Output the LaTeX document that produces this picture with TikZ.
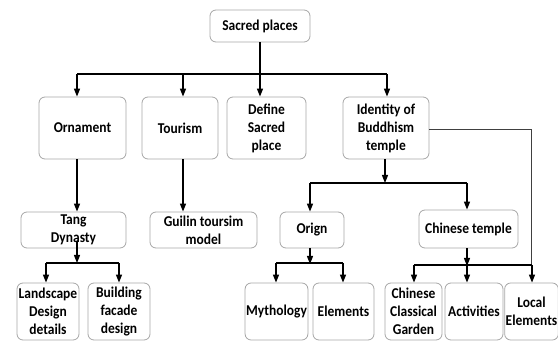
\documentclass[tikz,border=0pt]{standalone}
\usepackage{fontspec}
\setmainfont{Carlito}[FakeStretch=0.9]
\usetikzlibrary{arrows.meta}
\begin{document}
\begin{tikzpicture}[x=1pt,y=-1pt,
  box/.style={draw=black!35, line width=0.8pt, rounded corners=6pt, align=center,
    font=\bfseries\fontsize{15}{18}\selectfont, inner sep=1pt, anchor=center},
  arr/.style={line width=1.3pt, -{Triangle[length=8pt,width=6pt]}},
  ln/.style={line width=1.3pt}]
\useasboundingbox (0,0) rectangle (558,342);
\node[box, minimum width=100pt, minimum height=32pt] (sacred) at (260,26) {Sacred places};
\node[box, minimum width=87pt, minimum height=62pt] (orn) at (82.5,128) {Ornament};
\node[box, minimum width=76pt, minimum height=62pt] (tour) at (180,128) {Tourism};
\node[box, minimum width=79pt, minimum height=62pt] (def) at (266.5,128) {Define\\Sacred\\place};
\node[box, minimum width=86pt, minimum height=62pt] (iden) at (386,128) {Identity of\\Buddhism\\temple};
\node[box, minimum width=105pt, minimum height=36pt] (tang) at (73.5,230) {Tang\\Dynasty};
\node[box, minimum width=107pt, minimum height=36pt] (guilin) at (203.5,230) {Guilin toursim\\model};
\node[box, minimum width=62pt, minimum height=57pt] (land) at (48,311.5) {Landscape\\Design\\details};
\node[box, minimum width=62pt, minimum height=57pt] (build) at (119,311.5) {Building\\facade\\design};
\node[box, minimum width=64pt, minimum height=36pt] (origin) at (312,230) {Orign};
\node[box, minimum width=99pt, minimum height=38pt] (ctemple) at (468.5,229) {Chinese temple};
\node[box, minimum width=62pt, minimum height=57pt] (myth) at (276.5,311.5) {Mythology};
\node[box, minimum width=61pt, minimum height=57pt] (elem) at (343.5,311.5) {Elements};
\node[box, minimum width=57pt, minimum height=57pt] (garden) at (413.5,311.5) {Chinese\\Classical\\Garden};
\node[box, minimum width=58pt, minimum height=57pt] (activ) at (474,311.5) {Activities};
\node[box, minimum width=51pt, minimum height=57pt] (local) at (531.5,311.5) {Local\\Elements};
% level 1
\coordinate (j1) at (260,74);
\draw[arr] (sacred.south -| j1) -- (def.north -| j1);
\draw[ln] (77,74) coordinate (j1l) -- (387,74) coordinate (j1r);
\draw[arr] (j1l) -- (orn.north -| j1l);
\draw[arr] (183,74) coordinate (j1t) -- (tour.north -| j1t);
\draw[arr] (j1r) -- (iden.north -| j1r);
% ornament / tourism
\coordinate (oo) at (77,0);
\draw[arr] (orn.south -| oo) -- (tang.north -| oo);
\coordinate (tt) at (183,0);
\draw[arr] (tour.south -| tt) -- (guilin.north -| tt);
% tang
\coordinate (tj) at (77,263);
\draw[arr] (77,241) -- (tj);
\draw[ln] (46,263) coordinate (tjl) -- (119,263) coordinate (tjr);
\draw[arr] (tjl) -- (land.north -| tjl);
\draw[arr] (tjr) -- (build.north -| tjr);
% identity
\coordinate (ij) at (385,183);
\draw[arr] (iden.south -| ij) -- (ij);
\draw[ln] (310,183) coordinate (ijl) -- (467,183) coordinate (ijr);
\draw[arr] (ijl) -- (origin.north -| ijl);
\draw[arr] (ijr) -- (ctemple.north -| ijr);
\coordinate (ir) at (531,129);
\draw[line width=0.9pt, black!75] (iden.east |- ir) -- (ir) -- (531,265);
% origin
\coordinate (oj) at (310,264);
\draw[arr] (origin.south -| oj) -- (oj);
\draw[ln] (276,263) coordinate (ojl) -- (343,263) coordinate (ojr);
\draw[arr] (ojl) -- (myth.north -| ojl);
\draw[arr] (ojr) -- (elem.north -| ojr);
% chinese temple
\coordinate (cj) at (467,266);
\draw[arr] (ctemple.south -| cj) -- (cj);
\draw[ln] (414,265) coordinate (cjl) -- (532,265) coordinate (cjr);
\draw[arr] (cjl) -- (garden.north -| cjl);
\draw[arr] (cj) -- (activ.north -| cj);
\draw[arr] (cjr) -- (local.north -| cjr);
\end{tikzpicture}
\end{document}
